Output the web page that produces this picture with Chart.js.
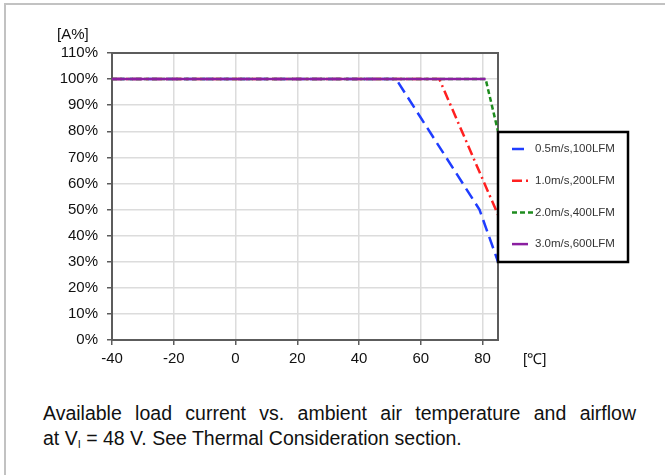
<!DOCTYPE html>
<html>
<head>
<meta charset="utf-8">
<script src="https://cdn.jsdelivr.net/npm/chart.js@4/dist/chart.umd.min.js"></script>
<style>
html, body { margin: 0; padding: 0; background: #fff; }
body { width: 665px; height: 475px; position: relative; overflow: hidden; font-family: "Liberation Sans", Arial, sans-serif; }
.frame { position: absolute; left: 4px; top: 3px; width: 700px; height: 500px; border-top: 2px solid #c2c2c2; border-left: 2px solid #c2c2c2; }
#graph { position: absolute; left: 0; top: 0; }
.caption { position: absolute; left: 43px; top: 401px; width: 593px; font-size: 19.5px; line-height: 25px; color: #111; }
.caption .l1 { text-align: justify; text-align-last: justify; }
.caption sub { font-size: 11px; vertical-align: -3px; }
</style>
</head>
<body>
<div class="frame"></div>
<canvas id="graph" width="665" height="380"></canvas>
<div class="caption">
  <div class="l1">Available load current vs. ambient air temperature and airflow</div>
  <div>at V<sub>I</sub> = 48 V. See Thermal Consideration section.</div>
</div>
<script>
// кривые снижения нагрузки, читаем с картинки
const tempBlue = [-40, 52, 79, 85];
const loadBlue = [100, 100, 50, 30];
const tempRed = [-40, 66, 85];
const loadRed = [100, 100, 48];
const tempGreen = [-40, 81, 85];
const loadGreen = [100, 100, 80];
const tempPurple = [-40, 81];
const loadPurple = [100, 100];

const seriesLabels = ['0.5m/s,100LFM', '1.0m/s,200LFM', '2.0m/s,400LFM', '3.0m/s,600LFM'];
const xTicks = [-40, -20, 0, 20, 40, 60, 80];
const yUnit = '[A%]';
const xUnit = '[\u2103]';

function pts(t, a) {
    return t.map((x, i) => ({ x: x, y: a[i] }));
}

const canvas = document.getElementById('graph');
const context = canvas.getContext('2d');

// рамка графика + подписи осей
const framePlugin = {
    id: 'framePlugin',
    beforeDatasetsDraw(chart) {
        const c = chart.ctx, a = chart.chartArea;
        c.save();
        c.strokeStyle = '#5c5c5c';
        c.lineWidth = 2;
        c.strokeRect(a.left, a.top, a.right - a.left, a.bottom - a.top);
        c.restore();
    },
    afterDraw(chart) {
        const c = chart.ctx, a = chart.chartArea;
        c.save();
        c.fillStyle = '#111';
        c.textBaseline = 'middle';
        c.textAlign = 'left';
        c.font = '15px "Liberation Sans", Arial, sans-serif';
        c.fillText(yUnit, 57, 35);
        c.fillText(xUnit, a.right + 25, a.bottom + 20);
        c.restore();
    }
};

// легенда в рамке справа
const boxLegend = {
    id: 'boxLegend',
    afterDraw(chart) {
        const c = chart.ctx, a = chart.chartArea;
        const left = a.right, top = a.top + 79, w = 130, h = 130;
        c.save();
        c.fillStyle = '#fff';
        c.fillRect(left, top, w, h);
        c.strokeStyle = '#000';
        c.lineWidth = 2.5;
        c.strokeRect(left, top, w, h);
        c.font = '11.5px "Liberation Sans", Arial, sans-serif';
        c.textBaseline = 'middle';
        chart.data.datasets.forEach((ds, i) => {
            const y = top + 17 + i * 31.7;
            c.strokeStyle = ds.borderColor;
            c.lineWidth = 2.5;
            c.setLineDash(ds.borderDash || []);
            c.beginPath();
            c.moveTo(left + 14, y);
            c.lineTo(left + (i === 2 ? 36 : 30), y);
            c.stroke();
            c.setLineDash([]);
            c.fillStyle = '#333';
            c.fillText(ds.label, left + 37, y);
        });
        c.restore();
    }
};

const configGraphic = {
    type: 'line',
    data: {
        datasets: [
            { label: seriesLabels[0], data: pts(tempBlue, loadBlue), borderColor: '#1f3dff', borderDash: [12, 6], order: 4 },
            { label: seriesLabels[1], data: pts(tempRed, loadRed), borderColor: '#ff2020', borderDash: [10, 4, 2, 4], order: 3 },
            { label: seriesLabels[2], data: pts(tempGreen, loadGreen), borderColor: '#1e8c1e', borderDash: [5, 3], order: 2 },
            { label: seriesLabels[3], data: pts(tempPurple, loadPurple), borderColor: '#8a1fa0', order: 1 },
        ]
    },
    options: {
        responsive: false,
        animation: false,
        devicePixelRatio: 1,
        elements: {
            line: { borderWidth: 2.5, tension: 0, fill: false },
            point: { radius: 0 }
        },
        layout: { padding: { left: 0, top: 53, right: 167, bottom: 0 } },
        plugins: { legend: { display: false }, tooltip: { enabled: false } },
        scales: {
            x: {
                type: 'linear',
                min: -40,
                max: 85,
                afterBuildTicks: (scale) => { scale.ticks = xTicks.map(v => ({ value: v })); },
                afterFit: (scale) => { scale.height = 40; },
                grid: { color: '#dcdcdc', lineWidth: 1.5, tickColor: '#5c5c5c', tickLength: 5 },
                border: { color: '#5c5c5c', width: 2 },
                ticks: {
                    color: '#111',
                    padding: 5,
                    maxRotation: 0,
                    font: { family: '"Liberation Sans", Arial, sans-serif', size: 15 },
                }
            },
            y: {
                min: 0,
                max: 110,
                afterFit: (scale) => { scale.width = 112; },
                grid: { color: '#dcdcdc', lineWidth: 1.5, tickColor: '#5c5c5c', tickLength: 5 },
                border: { color: '#5c5c5c', width: 2 },
                ticks: {
                    stepSize: 10,
                    color: '#111',
                    padding: 9,
                    font: { family: '"Liberation Sans", Arial, sans-serif', size: 15 },
                    callback: (v) => v + '%'
                }
            }
        }
    },
    plugins: [framePlugin, boxLegend]
};

let chart = new Chart(context, configGraphic);
</script>
</body>
</html>
